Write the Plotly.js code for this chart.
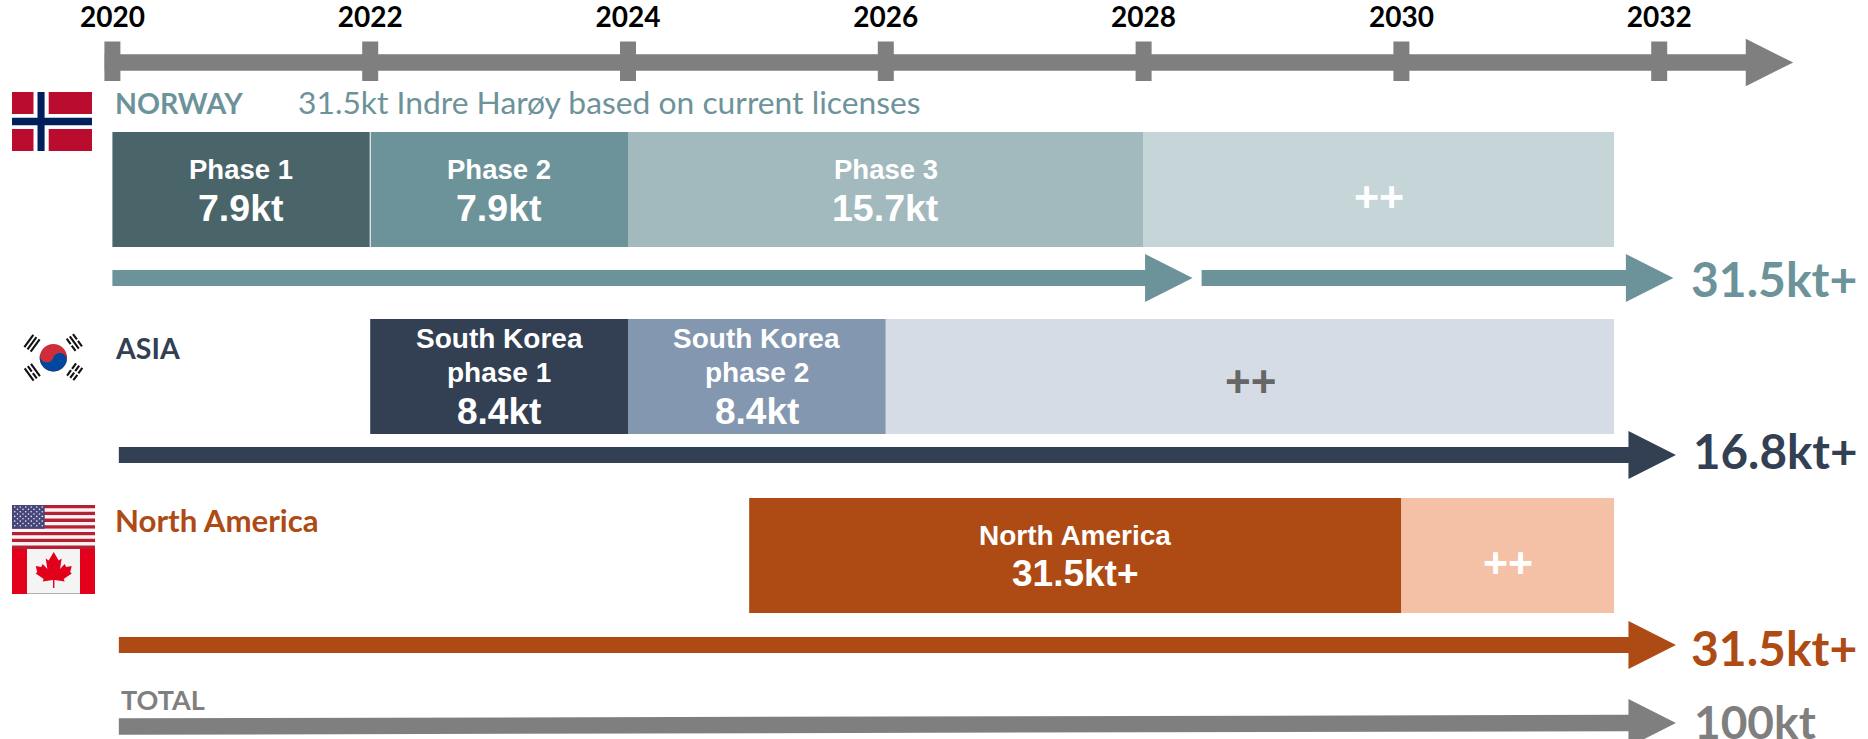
<!DOCTYPE html>
<html>
<head>
<meta charset="utf-8">
<script src="https://cdn.plot.ly/plotly-3.0.1.min.js"></script>
<style>html,body{margin:0;padding:0;background:#fff;overflow:hidden}</style>
</head>
<body>
<div id="chart" style="width:1868px;height:739px"></div>
<script>
// Timeline years on the top axis
const years = [2020, 2022, 2024, 2026, 2028, 2030, 2032];

// Capacity phases per region: start and end year of each block
const norwayNames  = ['Phase 1', 'Phase 2', 'Phase 3', '++'];
const norwayValues = ['7.9kt', '7.9kt', '15.7kt', ''];
const norwayStart  = [2020, 2022, 2024, 2028];
const norwayEnd    = [2022, 2024, 2028, 2031.65];
const norwayColors = ['#4a6569', '#6d939a', '#a2babd', '#c5d5d8'];

const asiaStart  = [2022, 2024, 2026];
const asiaEnd    = [2024, 2026, 2031.65];
const asiaColors = ['#333f52', '#8497b0', '#d6dce5'];

const naStart  = [2024.94, 2030];
const naEnd    = [2030, 2031.65];
const naColors = ['#ae4a14', '#f4c1a6'];

// Row positions on the vertical scale (one unit is one pixel of the page)
const rowNorway = 189.5, rowAsia = 376.5, rowNA = 555.5, barHeight = 115;

// Totals shown at the right of the arrows
const totals = ['31.5kt+', '16.8kt+', '31.5kt+', '100kt'];
const totalX = [1691, 1693, 1691, 1694];
const totalY = [278, 450, 647, 721];
const totalSize = [48, 47.5, 48, 46];
const totalColors = ['#6d939a', '#333f52', '#ae4a14', '#7f7f7f'];

const W = 1868, H = 739, TOP = 34;
const YEAR_PX = 128.9, X0 = 112.4;
const xRange = [2020 - X0 / YEAR_PX, 2020 + (W - X0) / YEAR_PX];
const SANS = 'Liberation Sans, Arial, sans-serif';
const GEO = 'Lato, sans-serif';

function blocks(starts, ends, colors, row) {
  return {
    type: 'bar', orientation: 'h', hoverinfo: 'skip', showlegend: false,
    y: starts.map(() => row),
    base: starts,
    x: ends.map((e, i) => e - starts[i]),
    width: starts.map(() => barHeight),
    marker: { color: colors, line: { width: 0 } }
  };
}

// Block arrow as a filled polygon; yEnd allows a slightly tilted shaft
function arrow(x0, tip, y0, yEnd, color, halfShaft, halfHead) {
  const headLen = 47.5 / YEAR_PX, b = tip - headLen;
  return {
    type: 'scatter', mode: 'lines', fill: 'toself', fillcolor: color,
    line: { width: 0, color: color }, hoverinfo: 'skip', showlegend: false,
    x: [x0, b, b, tip, b, b, x0, x0],
    y: [y0 - halfShaft, yEnd - halfShaft, yEnd - halfHead, yEnd, yEnd + halfHead, yEnd + halfShaft, y0 + halfShaft, y0 - halfShaft]
  };
}

// Tick posts crossing the timeline arrow
const tickX = [], tickY = [];
years.forEach(y => { tickX.push(y, y, null); tickY.push(41.5, 81, null); });

const traces = [
  blocks(norwayStart, norwayEnd, norwayColors, rowNorway),
  blocks(asiaStart, asiaEnd, asiaColors, rowAsia),
  blocks(naStart, naEnd, naColors, rowNA),
  arrow(2019.94, 2033.04, 62.5, 62.5, '#7f7f7f', 8.2, 23.7),
  { type: 'scatter', mode: 'lines', x: tickX, y: tickY, hoverinfo: 'skip', showlegend: false,
    line: { color: '#7f7f7f', width: 16 } },
  arrow(2020, 2028.38, 278, 278, '#6d939a', 8, 24),
  arrow(2028.45, 2032.11, 278, 278, '#6d939a', 8, 24),
  arrow(2020.05, 2032.13, 455, 455, '#333f52', 8, 24),
  arrow(2020.05, 2032.13, 645, 645, '#ae4a14', 8, 24),
  arrow(2020.05, 2032.13, 726.5, 723, '#7f7f7f', 8.2, 24)
];

function txt(text, x, y, size, color, family, opts) {
  return Object.assign({
    text: text, x: x, y: y, xref: 'x', yref: 'y', showarrow: false,
    font: { size: size, color: color, family: family }, xanchor: 'center', yanchor: 'middle',
    borderpad: 0, borderwidth: 0
  }, opts || {});
}
const mid = (a, b) => (a + b) / 2;
const yr = p => 2020 + (p - X0) / YEAR_PX;
const bold = s => '<b>' + s + '</b>';

const annotations = [
  txt(bold('NORWAY'), yr(114.5), 103, 28.5, '#6d939a', GEO, { xanchor: 'left' }),
  txt('31.5kt Indre Harøy based on current licenses', yr(298), 102, 31.8, '#6d939a', GEO, { xanchor: 'left' }),
  txt(bold('ASIA'), yr(114.5), 348, 28.5, '#333f52', GEO, { xanchor: 'left' }),
  txt(bold('North America'), yr(114.5), 520, 31.2, '#ae4a14', GEO, { xanchor: 'left' }),
  txt(bold('TOTAL'), yr(121), 699, 27, '#7f7f7f', GEO, { xanchor: 'left' }),

  txt(bold('South Korea'), mid(asiaStart[0], asiaEnd[0]), 338, 28, '#fff', SANS),
  txt(bold('phase 1'), mid(asiaStart[0], asiaEnd[0]), 372, 28, '#fff', SANS),
  txt(bold('8.4kt'), mid(asiaStart[0], asiaEnd[0]), 411, 37, '#fff', SANS),
  txt(bold('South Korea'), mid(asiaStart[1], asiaEnd[1]), 338, 28, '#fff', SANS),
  txt(bold('phase 2'), mid(asiaStart[1], asiaEnd[1]), 372, 28, '#fff', SANS),
  txt(bold('8.4kt'), mid(asiaStart[1], asiaEnd[1]), 411, 37, '#fff', SANS),
  txt(bold('++'), yr(1250), 381, 44, '#666666', SANS),

  txt(bold('North America'), mid(naStart[0], naEnd[0]), 535, 28, '#fff', SANS),
  txt(bold('31.5kt+'), mid(naStart[0], naEnd[0]), 573, 37, '#fff', SANS),
  txt(bold('++'), mid(naStart[1], naEnd[1]), 562, 43, '#fff', SANS)
];
norwayNames.forEach((name, i) => {
  const c = mid(norwayStart[i], norwayEnd[i]);
  if (name === '++') annotations.push(txt(bold(name), c, 196, 43, '#fff', SANS));
  else {
    annotations.push(txt(bold(name), c, 169, 27.5, '#fff', SANS));
    annotations.push(txt(bold(norwayValues[i]), c, 208, 37.5, '#fff', SANS));
  }
});
totals.forEach((t, i) => annotations.push(
  txt(bold(t), yr(totalX[i]), totalY[i], totalSize[i], totalColors[i], GEO, { xanchor: 'left' })));

// ---- flags, drawn as shapes placed in page pixels ----
const px = x => x / W;
const rect = (x0, y0, x1, y1, c) => ({ type: 'rect', xref: 'paper', yref: 'y', x0: px(x0), x1: px(x1), y0: y0, y1: y1, fillcolor: c, line: { width: 0 }, layer: 'above' });
const disc = (cx, cy, r, c) => ({ type: 'circle', xref: 'paper', yref: 'y', x0: px(cx - r), x1: px(cx + r), y0: cy - r, y1: cy + r, fillcolor: c, line: { width: 0 }, layer: 'above' });
const poly = (pts, c) => ({ type: 'path', xref: 'paper', yref: 'y', fillcolor: c, line: { width: 0 }, layer: 'above',
  path: 'M' + pts.map(p => px(p[0]) + ' ' + p[1]).join(' L') + ' Z' });

const shapes = [];
// Divider between the first two Norwegian phases
shapes.push({ type: 'line', xref: 'x', yref: 'y', x0: 2022, x1: 2022, y0: 132, y1: 247, line: { color: '#fff', width: 1 }, layer: 'above' });

// Norway
shapes.push(rect(12, 92, 92, 151, '#ba0c2f'), rect(33.5, 92, 48.7, 151, '#fff'), rect(12, 114, 92, 129, '#fff'),
  rect(37.5, 92, 44.6, 151, '#00205b'), rect(12, 117.7, 92, 125.3, '#00205b'));

// South Korea: red disc with the blue lower lobe swirling up on the right
(function () {
  const cx = 53.4, cy = 357.7, r = 13.7, a = 18 * Math.PI / 180;
  const rot = (x, y) => [cx + x * Math.cos(a) - y * Math.sin(a), cy + x * Math.sin(a) + y * Math.cos(a)];
  const rad = d => d * Math.PI / 180;
  shapes.push(disc(cx, cy, r, '#cd2e3a'));
  const pts = [];
  for (let t = 0; t <= 180; t += 6) pts.push(rot(r * Math.cos(rad(t)), r * Math.sin(rad(t))));
  for (let t = 180; t >= 0; t -= 10) pts.push(rot(-r / 2 + r / 2 * Math.cos(rad(t)), r / 2 * Math.sin(rad(t))));
  for (let t = 180; t <= 360; t += 10) pts.push(rot(r / 2 + r / 2 * Math.cos(rad(t)), r / 2 * Math.sin(rad(t))));
  shapes.push(poly(pts, '#0047a0'));

  // Trigrams: centre, outward direction signs, and which of the three bars are broken
  const trigrams = [
    { c: [32, 343.3], q: [-1, -1], broken: [false, false, false] },
    { c: [74.3, 342.5], q: [1, -1], broken: [true, false, true] },
    { c: [32.3, 372.3], q: [-1, 1], broken: [false, true, false] },
    { c: [74.7, 371.8], q: [1, 1], broken: [true, true, true] }
  ];
  const ang = rad(36), halfLen = 7.6, halfThick = 1.05, spacing = 3.9, gap = 0.9;
  trigrams.forEach(t => {
    const ux = t.q[0] * Math.cos(ang), uy = t.q[1] * Math.sin(ang);
    const vx = -uy, vy = ux;
    t.broken.forEach((isBroken, idx) => {
      const k = (idx - 1) * spacing;
      const bx = t.c[0] + ux * k, by = t.c[1] + uy * k;
      const spans = isBroken ? [[-halfLen, -gap], [gap, halfLen]] : [[-halfLen, halfLen]];
      spans.forEach(s => shapes.push(poly([
        [bx + vx * s[0] - ux * halfThick, by + vy * s[0] - uy * halfThick],
        [bx + vx * s[1] - ux * halfThick, by + vy * s[1] - uy * halfThick],
        [bx + vx * s[1] + ux * halfThick, by + vy * s[1] + uy * halfThick],
        [bx + vx * s[0] + ux * halfThick, by + vy * s[0] + uy * halfThick]
      ], '#111111')));
    });
  });
})();

// United States
(function () {
  const x0 = 12, x1 = 95, y0 = 505, h = 44, sh = h / 13;
  for (let i = 0; i < 13; i++) shapes.push(rect(x0, y0 + i * sh, x1, y0 + (i + 1) * sh, i % 2 ? '#fbf3f3' : '#b22234'));
  shapes.push(rect(x0, y0, 44.7, y0 + 7 * sh, '#46467a'));
  for (let r = 0; r < 9; r++) {
    const n = r % 2 ? 5 : 6;
    for (let c = 0; c < n; c++) {
      const sx = x0 + (r % 2 ? 5.5 : 2.75) + c * 5.5, sy = y0 + 2 + r * 2.35;
      shapes.push(disc(sx, sy, 0.8, '#e8e8f0'));
    }
  }
})();

// Canada
(function () {
  const cx = 53.7, top = 552;
  shapes.push(rect(12, 549, 95, 594, '#f4f4f4'), rect(12, 549, 27, 594, '#e2001a'), rect(80, 549, 95, 594, '#e2001a'),
    rect(27, 593, 80, 594, '#b0b0b0'));
  const half = [[0, 0], [5, 8.5], [8, 6.5], [6.3, 17], [11, 12], [12.5, 15], [18, 14], [16.5, 20], [18, 21.5], [10, 27], [11, 29.5], [1, 28]];
  const right = half.map(p => [cx + p[0], top + p[1]]);
  const left = half.slice().reverse().map(p => [cx - p[0], top + p[1]]);
  shapes.push(poly(right.concat(left), '#e2001a'));
  shapes.push(rect(cx - 0.7, top + 27, cx + 0.7, top + 36, '#e2001a'));
})();

const layout = {
  width: W, height: H,
  margin: { l: 0, r: 0, t: TOP, b: 0, pad: 0 },
  paper_bgcolor: '#fff', plot_bgcolor: '#fff',
  barmode: 'overlay', showlegend: false, hovermode: false,
  xaxis: {
    range: xRange, side: 'top', showgrid: false, zeroline: false, showline: false,
    ticks: '', tickmode: 'array', tickvals: years, ticktext: years.map(y => '<b>' + y + '</b>'),
    tickfont: { family: GEO, size: 28, color: '#000' }, fixedrange: true
  },
  yaxis: { range: [H, TOP], showgrid: false, zeroline: false, showline: false, showticklabels: false, ticks: '', fixedrange: true },
  annotations: annotations,
  shapes: shapes
};
Plotly.newPlot('chart', traces, layout, { displayModeBar: false, staticPlot: true });
</script>
</body>
</html>
